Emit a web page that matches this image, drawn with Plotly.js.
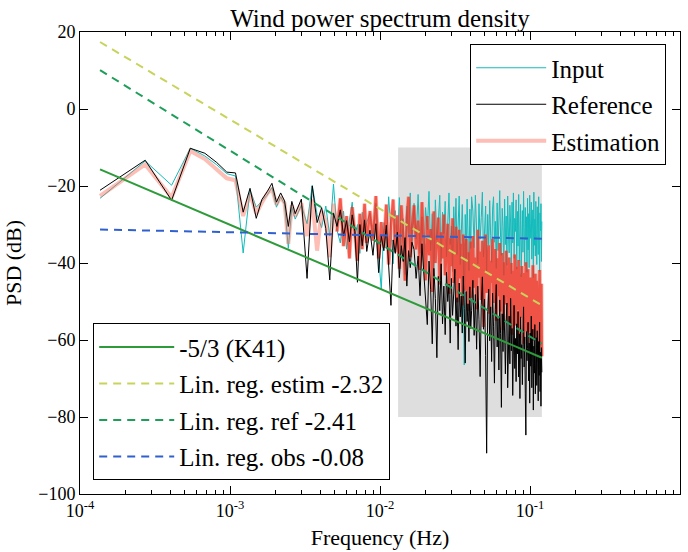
<!DOCTYPE html>
<html>
<head>
<meta charset="utf-8">
<script src="https://cdn.plot.ly/plotly-3.0.1.min.js"></script>
<style>html,body{margin:0;padding:0;background:#fff;}#chart{width:688px;height:552px;}</style>
</head>
<body>
<div id="chart"></div>
<script>
// Frequency resolution of the periodogram (Hz per bin)
const binWidthHz = 1.36e-4;

// Spectral bin indices that are plotted
const bins = [
  1,2,3,4,5,6,7,8,9,10,11,12,13,14,15,16,17,18,19,20,
  22,24,26,28,30,32,34,36,38,40,42,44,46,48,50,52,54,56,58,60,
  63,66,69,72,75,78,81,84,87,90,93,96,99,102,105,108,111,114,117,120,
  124,128,132,136,140,144,148,152,156,160,164,168,172,176,180,184,188,192,196,200,204,208,212,216,220,224,228,232,236,240,244,248,252,256,260,264,268,272,276,280,284,288,292,296,300,
  306,312,318,324,330,336,342,348,354,360,366,372,378,384,390,396,402,
  408,414,420,426,432,438,444,450,456,462,468,474,480,486,492,498,504,
  510,516,522,528,534,540,546,552,558,564,570,576,582,588,594,600,606,
  612,618,624,630,636,642,648,654,660,666,672,678,684,690,696,702,708,
  714,720,726,732,738,744,750,756,762,768,774,780,786,792,798,804,810,
  816,822,828,834,840,846,852,858,864,870,876,882
];

// PSD (dB) of the observed input signal
const inputPsd = [
  -23.2,-13.5,-19.8,-10.2,-12.2,-14.5,-16.8,-17.4,-37.4,-21,-25.5,-24,-22.4,-20.4,-25.5,-22.8,-24.8,-36.2,-25.5,-28.6,
  -25,-29.8,-19.8,-27.5,-30.8,-25.2,-33,-19.5,-31.5,-34.8,-26.5,-36.4,-28.8,-24.2,-33.5,-30,-37.5,-26.8,-31.8,-29.5,
  -27,-33.5,-24.5,-38.2,-47,-29.5,-35.8,-22.8,-31,-40.2,-26.4,-34.2,-23,-37.6,-28.5,-43,-25.2,-33,-21.8,-36.4,
  -24.5,-33.8,-22.2,-37.5,-28,-41.2,-25.6,-31.4,-21.4,-36.8,-27.2,-44.6,-23.6,-34,-29.4,-22.4,-39.6,-26.8,-32.4,-24,-38.4,-27.6,-21.8,-35.2,-30.4,-42.2,-25.4,-33.4,-23.2,-37.8,-28.6,-22.6,-40.4,-31,-24.8,-35.8,-66.5,-27.4,-38.8,-23.4,-33.2,-42,-26,-36.2,-22.8,
  -26.5,-36,-22.4,-31.6,-40.2,-24.6,-33.8,-28.2,-21.6,-38.4,-30,-25.2,-42.6,-27.4,-35.4,-23.8,-32.8,
  -39.8,-26,-22.8,-34.6,-29.2,-41.4,-24.4,-36.8,-28.8,-21.2,-33.4,-38,-25.8,-30.6,-43.2,-23.4,-35.2,
  -27.8,-40.6,-22.6,-32.2,-37.4,-25,-29.6,-42.8,-24.2,-34.8,-21.8,-38.8,-28.4,-31.8,-23.6,-41.6,-26.6,
  -35.6,-22.2,-39.4,-29,-24.8,-43.6,-32.4,-26.4,-37.2,-21.4,-30.8,-40.8,-25.6,-34,-28,-42.4,-23.2,
  -36.6,-27.2,-41.2,-22.4,-33.6,-29.8,-24.2,-39,-31.2,-26.2,-43.8,-21.6,-35.4,-28.6,-38.2,-24,-32.6,
  -40.4,-25.4,-30.2,-37.8,-22.8,-34.4,-42.2,-27,-31.6,-24.6,-39.6,-29.2
];

// PSD (dB) of the reference signal
const referencePsd = [
  -21.1,-13.3,-23.7,-10.2,-11.5,-13.9,-16.4,-16.6,-26.8,-20.6,-28.4,-23.5,-21.5,-19.3,-24.2,-21.8,-23.9,-30.5,-24,-27.2,
  -23.4,-44,-20,-29.5,-25.6,-31,-44.4,-27,-30.5,-26.2,-33,-29,-34.5,-27.5,-31.8,-45,-30,-35.5,-28.8,-37,
  -31.5,-38,-29.8,-42.5,-33,-36.8,-30.2,-40.5,-51,-34,-37.5,-32,-43.8,-35.5,-39.6,-33.4,-46,-36.8,-41.2,-34.6,
  -36.5,-44,-38.2,-48.5,-35,-42.6,-50.4,-56,-39.5,-46.8,-61,-41.4,-49.2,-64.6,-43.5,-52.4,-40.2,-55.8,-46,-58.6,-42.4,-50,-45.5,-60.8,-44,-53.6,-47.8,-41.6,-56.4,-49,-62.5,-45.2,-54,-48.6,-58.2,-43.4,-51.8,-66,-47.4,-55.2,-50.6,-60.4,-46.2,-57,-52.4,
  -44.5,-58.8,-48.2,-62.4,-46,-54.6,-69.5,-50.8,-43.6,-57.2,-49.4,-64,-89.4,-52.6,-46.8,-60.2,-51.4,
  -65.6,-47.8,-56.4,-71.2,-52,-45.6,-61.8,-54.4,-67.8,-49.6,-58.4,-77.5,-53.2,-63,-48.4,-59.6,-68.8,
  -55.2,-50.4,-72.4,-60.6,-53.8,-66.2,-49.2,-62.8,-57,-74.4,-54.6,-51,-67.4,-59.6,-70.8,-55.8,-63.6,
  -52.6,-69.6,-58.4,-75.2,-54,-64.8,-61.2,-71.6,-56.2,-51.4,-67,-59.2,-73.8,-84.7,-57.8,-65.4,-62.2,
  -55.4,-70.6,-60.8,-76.4,-58.2,-66.8,-53.8,-72.4,-63.4,-57.2,-78.2,-61.6,-68.6,-56,-74,-64.2,-59.4,
  -71.8,-57.6,-66,-75.8,-60.4,-69.2,-55.4,-73.4,-63.2,-77.2,-62,-68.4
];

// PSD (dB) of the estimated signal
const estimationPsd = [
  -22.6,-14.4,-23,-10.9,-13,-15.6,-18,-18.5,-27.8,-22,-27.2,-24.3,-22,-20.6,-24.8,-22.8,-24.5,-35,-25,-27.8,
  -24.5,-33,-23.5,-36.8,-26.5,-29,-38.5,-24.6,-31.8,-23.2,-35.6,-27.8,-38.8,-25.5,-32.5,-39.4,-27.2,-36.4,-24.6,-34.8,
  -26.5,-34.2,-22.6,-38.8,-29.4,-36,-24.8,-40.4,-30,-23.5,-37.2,-27.6,-41.5,-25,-33.2,-44.6,-28.4,-22.8,-38.5,-31,
  -25,-36.5,-29,-41.8,-24.2,-33.6,-44.5,-27.8,-38,-31.2,-47.5,-26.6,-40,-34.4,-28.2,-45.6,-32,-38.8,-27.4,-43.2,-35.6,-29.8,-48,-33.6,-40.8,-28.4,-45.2,-36.8,-30.6,-50.2,-38.2,-31.4,-44,-35,-51,-32.6,-41.4,-47.2,-33.8,-43.6,-52.4,-37.2,-46.8,-34.4,-49,
  -33,-46.4,-38.6,-52,-31.4,-43.8,-37,-49.6,-34.2,-56.6,-40.2,-32.6,-47.8,-42.4,-35.4,-53.2,-39.4,
  -45.2,-33.8,-50.4,-41.6,-36.4,-55,-44,-38.8,-48.6,-34.8,-52.6,-42.2,-37.4,-57.4,-46,-39.8,-50.8,
  -36.8,-48,-43.4,-55.8,-38.6,-51.2,-45.6,-40,-58.6,-47.2,-42,-53.6,-37.8,-49.8,-56.2,-44.4,-41,
  -52.2,-39.2,-47.6,-59.4,-43,-54.2,-40.8,-50,-46.6,-61,-42.6,-55.6,-48.4,-39.8,-57.8,-45,-51.6,
  -41.6,-58,-47,-53.4,-43.8,-62.2,-49.6,-45.2,-56.8,-40.6,-52.8,-60.2,-46.4,-54.8,-42.8,-59.6,-50.4,
  -44.6,-57.2,-52.2,-63.6,-46.8,-55.4,-41.8,-61.4,-49.2,-58.4,-45.4,-64.2
];

// Fitted lines (end points, Hz and dB)
const fitFreq = [1.36e-4, 0.12];
const k41Line = [-15.7, -64.6];
const estimFit = [17.4, -51.0];
const refFit = [10.1, -61.0];
const obsFit = [-31.3, -33.7];

// Shaded frequency band (Hz) and level band (dB)
const bandFreq = [0.0132, 0.12];
const bandDb = [-80, -10];

const freq = bins.map(k => k * binWidthHz);
const denseIdx = freq.map((f, i) => i).filter(i => freq[i] > 0.005);

// minor tick positions on the log axis (digits 2..9 of each decade)
const minorTicks = [];
for (let e = -4; e < 0; e++) for (let d = 2; d <= 9; d++) minorTicks.push(d * Math.pow(10, e));

const serif = 'Liberation Serif';

const traces = [
  {x: freq, y: inputPsd, mode: 'lines', name: 'Input', legend: 'legend', legendgroup: 'g1', legendrank: 1,
   line: {color: '#12bcbc', width: 1}},
  {x: freq, y: estimationPsd, mode: 'lines', name: 'Estimation', legend: 'legend', legendgroup: 'g3', legendrank: 3,
   line: {color: 'rgba(250,110,90,0.45)', width: 4}},
  {x: denseIdx.map(i => freq[i]), y: denseIdx.map(i => estimationPsd[i]), mode: 'lines', showlegend: false,
   hoverinfo: 'skip', line: {color: 'rgba(240,35,20,0.65)', width: 2.5}},
  {x: freq, y: referencePsd, mode: 'lines', name: 'Reference', legend: 'legend', legendgroup: 'g2', legendrank: 2,
   line: {color: '#000000', width: 1}},
  {x: fitFreq, y: k41Line, mode: 'lines', name: '-5/3 (K41)', legend: 'legend2', legendgroup: 'h1',
   line: {color: '#2e9b3a', width: 2}},
  {x: fitFreq, y: estimFit, mode: 'lines', name: 'Lin. reg. estim -2.32', legend: 'legend2', legendgroup: 'h2',
   line: {color: '#c9d35c', width: 2, dash: '8px,6px'}},
  {x: fitFreq, y: refFit, mode: 'lines', name: 'Lin. reg. ref -2.41', legend: 'legend2', legendgroup: 'h3',
   line: {color: '#1f9e5a', width: 2, dash: '8px,6px'}},
  {x: fitFreq, y: obsFit, mode: 'lines', name: 'Lin. reg. obs -0.08', legend: 'legend2', legendgroup: 'h4',
   line: {color: '#3060d0', width: 2, dash: '8px,6px'}}
];

const legendBase = {
  bgcolor: 'white', bordercolor: 'black', borderwidth: 1,
  font: {family: serif, size: 25, color: 'black'},
  traceorder: 'grouped', tracegroupgap: 1
};

const layout = {
  width: 688, height: 552,
  margin: {l: 80, r: 8, t: 32, b: 58},
  paper_bgcolor: 'white', plot_bgcolor: 'white',
  font: {family: serif, color: 'black'},
  title: {text: 'Wind power spectrum density', font: {family: serif, size: 25, color: 'black'},
          xref: 'paper', x: 0.5, xanchor: 'center', yref: 'container', y: 1 - 18 / 552, yanchor: 'middle'},
  xaxis: {
    type: 'log', range: [-4, 0],
    tickvals: [1e-4, 1e-3, 1e-2, 1e-1, 1],
    ticktext: ['10<sup>-4</sup>', '10<sup>-3</sup>', '10<sup>-2</sup>', '10<sup>-1</sup>', '10<sup>0</sup>'],
    ticks: 'inside', ticklen: 8, tickwidth: 1, tickcolor: 'black',
    showline: true, linecolor: 'black', linewidth: 1, mirror: 'ticks',
    showgrid: false, zeroline: false,
    tickfont: {family: serif, size: 18, color: 'black'},
    title: {text: 'Frequency (Hz)', font: {family: serif, size: 22, color: 'black'}, standoff: 10}
  },
  xaxis2: {
    type: 'log', range: [-4, 0], overlaying: 'x', anchor: 'y', side: 'bottom',
    tickmode: 'array', tickvals: minorTicks, showticklabels: false,
    ticks: 'inside', ticklen: 4, tickwidth: 1, tickcolor: 'black',
    showline: false, mirror: 'ticks', showgrid: false, zeroline: false
  },
  yaxis: {
    range: [-100, 20], tick0: 0, dtick: 20,
    ticks: 'inside', ticklen: 8, tickwidth: 1, tickcolor: 'black',
    showline: true, linecolor: 'black', linewidth: 1, mirror: 'ticks',
    showgrid: false, zeroline: false,
    tickfont: {family: serif, size: 18, color: 'black'},
    title: {text: 'PSD (dB)', font: {family: serif, size: 22, color: 'black'}, standoff: 10}
  },
  shapes: [{type: 'rect', xref: 'x', yref: 'y', x0: bandFreq[0], x1: bandFreq[1], y0: bandDb[0], y1: bandDb[1],
            fillcolor: '#dedede', line: {width: 0}, layer: 'below'}],
  legend: Object.assign({}, legendBase, {x: 0.977, y: 0.974, xanchor: 'right', yanchor: 'top', itemwidth: 70}),
  legend2: Object.assign({}, legendBase, {x: 0.022, y: 0.03, xanchor: 'left', yanchor: 'bottom', itemwidth: 75}),
  showlegend: true
};

// an invisible carrier trace so the minor-tick axis is drawn
traces.push({x: fitFreq, y: obsFit, xaxis: 'x2', yaxis: 'y', mode: 'lines', showlegend: false,
             hoverinfo: 'skip', line: {color: 'rgba(0,0,0,0)', width: 0}});

Plotly.newPlot('chart', traces, layout, {displayModeBar: false, staticPlot: true});
</script>
</body>
</html>
